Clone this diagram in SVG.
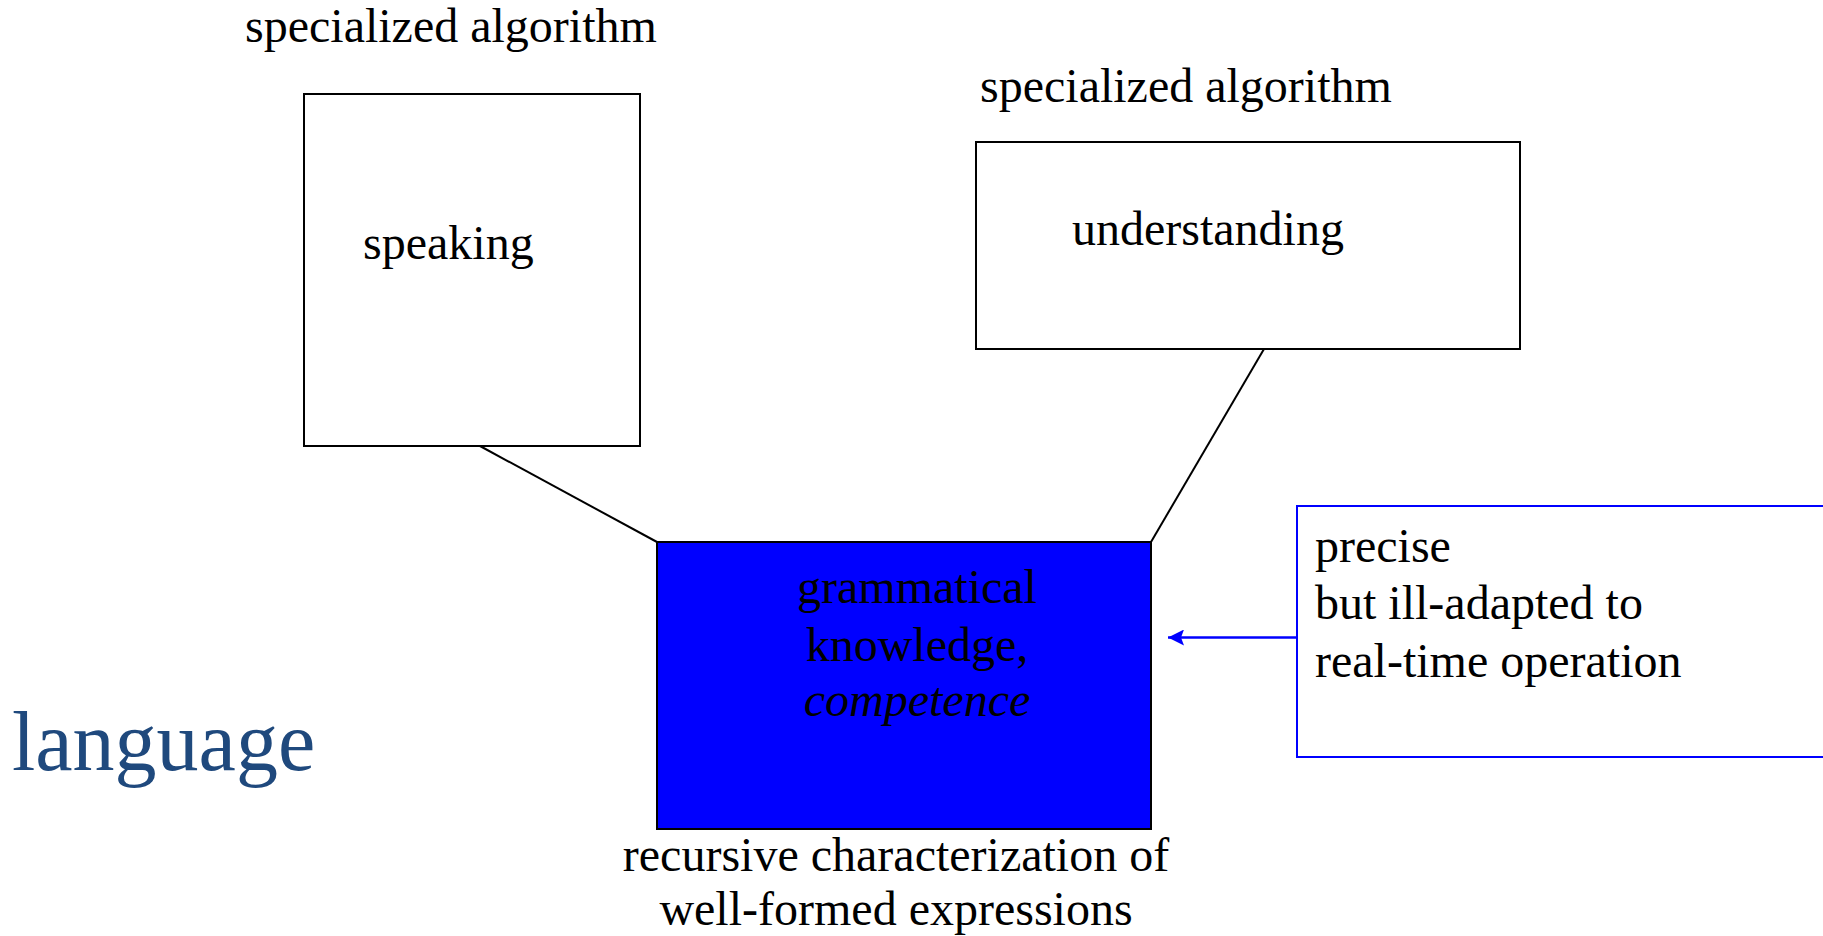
<svg xmlns="http://www.w3.org/2000/svg" width="1823" height="936" viewBox="0 0 1823 936">
<style>
.t{font-family:"Liberation Serif","Times New Roman",serif;font-size:48px;fill:#000}
.box{fill:#fff;stroke:#000;stroke-width:2}
.conn{stroke:#000;stroke-width:2;fill:none}
</style>
<defs>
<marker id="ah" markerWidth="16" markerHeight="16" refX="16" refY="8" orient="auto" markerUnits="userSpaceOnUse">
<path d="M0,0 L16,8 L0,16 L3,8 Z" fill="#0000FF"/>
</marker>
</defs>
<rect width="1823" height="936" fill="#fff"/>
<g id="connectors">
<line class="conn" x1="480" y1="446" x2="657" y2="542"/>
<line class="conn" x1="1264" y1="349" x2="1151" y2="542"/>
<line x1="1296" y1="637.5" x2="1168" y2="637.5" stroke="#0000FF" stroke-width="2.5" marker-end="url(#ah)"/>
</g>
<g id="speaking">
<text class="t" x="245" y="42" font-size="47">specialized algorithm</text>
<rect class="box" x="304" y="94" width="336" height="352"/>
<text class="t" x="363" y="259">speaking</text>
</g>
<g id="understanding">
<text class="t" x="980" y="102">specialized algorithm</text>
<rect class="box" x="976" y="142" width="544" height="207"/>
<text class="t" x="1072" y="245">understanding</text>
</g>
<g id="grammar">
<rect x="657" y="542" width="494" height="287" fill="#0000FF" stroke="#000" stroke-width="2"/>
<text class="t" x="917" y="603" text-anchor="middle">grammatical</text>
<text class="t" x="917" y="661" text-anchor="middle">knowledge,</text>
<text class="t" x="917" y="716" text-anchor="middle" font-style="italic">competence</text>
<text class="t" x="896" y="871" text-anchor="middle">recursive characterization of</text>
<text class="t" x="896" y="925" text-anchor="middle">well-formed expressions</text>
</g>
<g id="note">
<rect x="1297" y="506" width="540" height="251" fill="#fff" stroke="#0000FF" stroke-width="2"/>
<text class="t" x="1315" y="562">precise</text>
<text class="t" x="1315" y="619">but ill-adapted to</text>
<text class="t" x="1315" y="677">real-time operation</text>
</g>
<g id="title">
<text x="12" y="770" font-family="Liberation Serif, Times New Roman, serif" font-size="84" fill="#1F497D">language</text>
</g>
</svg>
